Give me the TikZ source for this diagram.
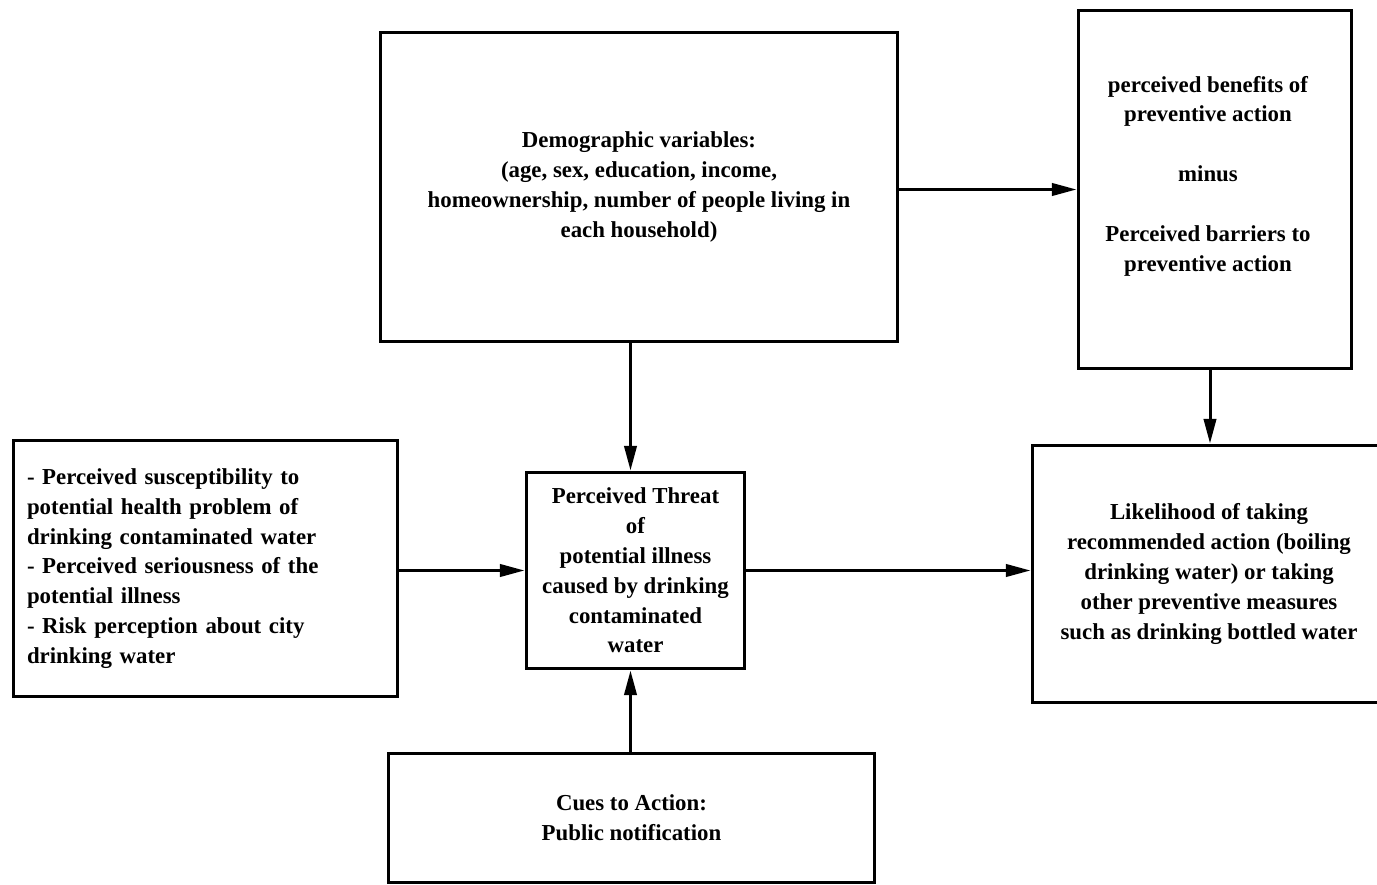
\documentclass[tikz,border=0pt]{standalone}
\usepackage{fontspec}
\setmainfont{Liberation Serif}
\usetikzlibrary{arrows.meta}

\begin{document}
\begin{tikzpicture}[x=0.02cm, y=-0.02cm,
    box/.style={draw, line width=1.7pt, align=center, inner sep=0pt, font=\bfseries\fontsize{13}{17}\selectfont},
    txt/.style={align=center, inner sep=0pt, font=\bfseries\fontsize{13}{17}\selectfont},
    arr/.style={line width=1.7pt, -{Triangle[length=14pt, width=7pt]}}]
    \useasboundingbox (0,0) rectangle (1377,885);

    \node[box, minimum width=10.36cm, minimum height=6.2cm] (Dem) at (639,187) {Demographic variables:\\(age, sex, education, income,\\homeownership, number of people living in\\each household)};
    \node[box, minimum width=5.48cm, minimum height=7.18cm] (Ben) at (1215,189.5) {};
    \node[txt] (BenT) at (1208,176) {perceived benefits of\\preventive action\\[17pt] minus\\[17pt] Perceived barriers to\\preventive action};
    \node[box, align=left, text width=7.14cm, inner xsep=0.28cm, minimum height=5.14cm] (Sus) at (205.5,568.5) {- Perceived susceptibility to\\potential health problem of\\drinking contaminated water\\- Perceived seriousness of the\\potential illness\\- Risk perception about city\\drinking water};
    \node[box, minimum width=4.38cm, minimum height=3.94cm] (Thr) at (635.5,570.5) {Perceived Threat\\of\\potential illness\\caused by drinking\\contaminated\\water};
    \node[box, minimum width=7.08cm, minimum height=5.16cm] (Lik) at (1209,574) {Likelihood of taking\\recommended action (boiling\\drinking water) or taking\\other preventive measures\\such as drinking bottled water};
    \node[box, minimum width=9.74cm, minimum height=2.6cm] (Cue) at (631.5,818) {Cues to Action:\\Public notification};

    \draw[arr] (Dem.east |- Ben.west) -- (Ben.west);
    \draw[arr] ([xshift=-0.1cm]Dem.south -| Thr.north) -- ([xshift=-0.1cm]Thr.north);
    \draw[arr] ([xshift=-0.1cm]Ben.south) -- ([xshift=-0.1cm]Ben.south |- Lik.north);
    \draw[arr] (Sus.east |- Thr.west) -- (Thr.west);
    \draw[arr] (Thr.east) -- (Thr.east -| Lik.west);
    \draw[arr] ([xshift=-0.1cm]Cue.north -| Thr.south) -- ([xshift=-0.1cm]Thr.south);
\end{tikzpicture}
\end{document}
